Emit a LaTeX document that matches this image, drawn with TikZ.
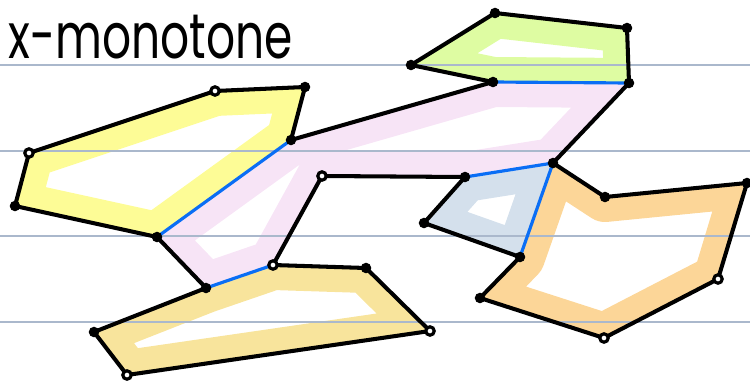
\documentclass[tikz,border=0pt]{standalone}
\usepackage{fontspec}
\newfontfamily\handfont{Poppins}
\definecolor{ruleblue}{RGB}{170,184,204}
\definecolor{cutblue}{RGB}{10,110,245}
\definecolor{hlyellow}{RGB}{253,252,150}
\definecolor{hlgreen}{RGB}{222,252,162}
\definecolor{hlpink}{RGB}{247,228,246}
\definecolor{hlsteel}{RGB}{212,224,236}
\definecolor{hlorange}{RGB}{252,214,152}
\definecolor{hlgold}{RGB}{248,228,156}
\begin{document}
\begin{tikzpicture}[x=0.02cm,y=-0.02cm,
  edge/.style={line width=2.3pt,line cap=round,line join=round},
  cut/.style={line width=1.8pt,draw=cutblue,line cap=round},
  band/.style={line width=1.0cm,line join=round}]
  \useasboundingbox (0,0) rectangle (750,382);

  % --- vertici ---
  \coordinate (Y1) at (29,153);  \coordinate (Y2) at (215,91);
  \coordinate (Y3) at (305,87);  \coordinate (Y6) at (15,206);
  \coordinate (P1) at (291,140); \coordinate (P2) at (493,82);
  \coordinate (P3) at (629,83);  \coordinate (P4) at (553,163);
  \coordinate (P5) at (465,177); \coordinate (P6) at (322,176);
  \coordinate (P7) at (273,265); \coordinate (P8) at (206,288);
  \coordinate (P9) at (157,237);
  \coordinate (G1) at (411,65);  \coordinate (G2) at (495,13);
  \coordinate (G3) at (627,28);
  \coordinate (Q1) at (520,257); \coordinate (Q2) at (424,223);
  \coordinate (O1) at (605,197); \coordinate (O2) at (747,183);
  \coordinate (O3) at (718,279); \coordinate (O4) at (604,338);
  \coordinate (O5) at (480,298);
  \coordinate (B1) at (366,268); \coordinate (B2) at (430,331);
  \coordinate (B3) at (127,375); \coordinate (B4) at (94,332);

  % --- evidenziatore ---
  \begin{scope}
    \clip (Y1) -- (Y2) -- (Y3) -- (P1) -- (P9) -- (Y6) -- cycle;
    \draw[band,hlyellow] (Y1) -- (Y2) -- (Y3) -- (P1) -- (P9) -- (Y6) -- cycle;
  \end{scope}
  \begin{scope}
    \clip (P1) -- (P2) -- (P3) -- (P4) -- (P5) -- (P6) -- (P7) -- (P8) -- (P9) -- cycle;
    \draw[band,hlpink] (P1) -- (P2) -- (P3) -- (P4) -- (P5) -- (P6) -- (P7) -- (P8) -- (P9) -- cycle;
  \end{scope}
  \begin{scope}
    \clip (P2) -- (G1) -- (G2) -- (G3) -- (P3) -- cycle;
    \draw[band,hlgreen] (P2) -- (G1) -- (G2) -- (G3) -- (P3) -- cycle;
  \end{scope}
  \begin{scope}
    \clip (P5) -- (P4) -- (Q1) -- (Q2) -- cycle;
    \draw[band,hlsteel] (P5) -- (P4) -- (Q1) -- (Q2) -- cycle;
  \end{scope}
  \begin{scope}
    \clip (P4) -- (O1) -- (O2) -- (O3) -- (O4) -- (O5) -- (Q1) -- cycle;
    \draw[band,hlorange] (P4) -- (O1) -- (O2) -- (O3) -- (O4) -- (O5) -- (Q1) -- cycle;
  \end{scope}
  \begin{scope}
    \clip (P8) -- (P7) -- (B1) -- (B2) -- (B3) -- (B4) -- cycle;
    \draw[band,hlgold] (P8) -- (P7) -- (B1) -- (B2) -- (B3) -- (B4) -- cycle;
  \end{scope}

  % --- righe del quaderno ---
  \foreach \y in {65,151,236,322}
    \draw[ruleblue,line width=0.6pt] (0,\y) -- (750,\y);

  % --- titolo ---
  \node[anchor=base west,inner sep=0pt] (title) at (8,58)
    {\scalebox{0.72}[1]{\handfont\fontsize{36}{36}\selectfont x-monotone}};

  % --- lati ---
  \draw[edge] (P9) -- (Y6) -- (Y1) -- (Y2) -- (Y3) -- (P1) -- (P2);
  \draw[edge] (P2) -- (G1) -- (G2) -- (G3) -- (P3) -- (P4);
  \draw[edge] (P4) -- (O1) -- (O2) -- (O3) -- (O4) -- (O5) -- (Q1);
  \draw[edge] (Q1) -- (Q2) -- (P5) -- (P6) -- (P7);
  \draw[edge] (B1) -- (P7);
  \draw[edge] (B1) -- (B2) -- (B3) -- (B4) -- (P8) -- (P9);

  % --- tagli (blu) ---
  \draw[cut] (P9) -- (P1);
  \draw[cut] (P2) -- (P3);
  \draw[cut] (P5) -- (P4) -- (Q1);
  \draw[cut] (P8) -- (P7);

  % --- punti ---
  \foreach \p in {Y3,P1,P2,P3,P4,P5,P8,P9,G1,G2,G3,Q1,Q2,O1,O2,O5,B1,B4,Y6}
    \fill (\p) circle (3pt);
  \foreach \p in {Y1,Y2,P6,P7,O3,O4,B2,B3}
    \draw[line width=1.8pt,fill=white] (\p) circle (2.4pt);
\end{tikzpicture}
\end{document}
